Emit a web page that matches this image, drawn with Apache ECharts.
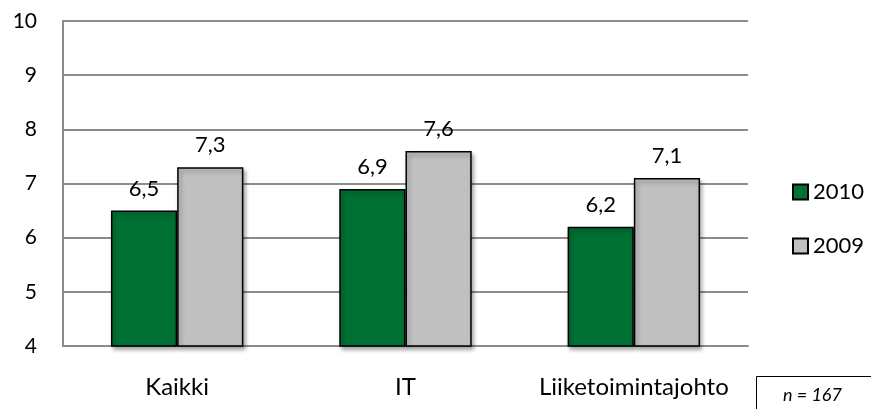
<!DOCTYPE html>
<html><head><meta charset="utf-8">
<script src="https://cdn.jsdelivr.net/npm/echarts@6/dist/echarts.min.js"></script>
<style>html,body{margin:0;padding:0;background:#fff}#c{width:871px;height:409px}</style>
</head><body><div id="c"></div>
<script>
const categories = ['Kaikki', 'IT', 'Liiketoimintajohto'];
const values2010 = [6.5, 6.9, 6.2];
const values2009 = [7.3, 7.6, 7.1];
const seriesNames = ['2010', '2009'];
const note = 'n = 167';

const FONT = 'Lato';
const chart = echarts.init(document.getElementById('c'));
const label = {
  show: true, position: 'top', distance: 11,
  fontFamily: FONT, fontSize: 22, color: '#000',
  formatter: p => String(p.value).replace('.', ',')
};
const mk = (name, data, color) => ({
  name, type: 'bar', data, barGap: '0%', barCategoryGap: '42%',
  itemStyle: { color, borderColor: '#000', borderWidth: 1.5,
    shadowColor: 'rgba(0,0,0,0.35)', shadowBlur: 4, shadowOffsetX: 2, shadowOffsetY: 3 },
  label, emphasis: { disabled: true }
});
chart.setOption({
  animation: false,
  textStyle: { fontFamily: FONT },
  grid: { left: 63, top: 21, right: 123, bottom: 63, containLabel: false },
  legend: {
    orient: 'vertical', left: 792, top: 181, padding: 0, itemGap: 32,
    icon: 'rect', itemWidth: 15, itemHeight: 15,
    textStyle: { fontFamily: FONT, fontSize: 22, lineHeight: 15, color: '#000' },
    data: seriesNames
  },
  xAxis: {
    type: 'category', data: categories,
    axisLine: { lineStyle: { color: '#8c8c8c', width: 2 } },
    axisTick: { show: false },
    axisLabel: { interval: 0, hideOverlap: false, fontFamily: FONT, fontSize: 24, color: '#000', margin: 29 }
  },
  yAxis: {
    type: 'value', min: 4, max: 10, interval: 1,
    axisLine: { show: true, lineStyle: { color: '#8c8c8c', width: 2 } },
    axisTick: { show: false },
    splitLine: { lineStyle: { color: '#8c8c8c', width: 2 } },
    axisLabel: { fontFamily: FONT, fontSize: 21, color: '#000', margin: 26 }
  },
  series: [mk(seriesNames[0], values2010, '#007033'), mk(seriesNames[1], values2009, '#c0c0c0')],
  graphic: [
    { type: 'rect', left: 756, top: 376, shape: { width: 130, height: 40 },
      style: { fill: '#fff', stroke: '#000', lineWidth: 1 } },
    { type: 'text', left: 783, top: 386,
      style: { text: note, fontFamily: FONT, fontSize: 18, fontStyle: 'italic', fill: '#000' } }
  ]
});
</script></body></html>
